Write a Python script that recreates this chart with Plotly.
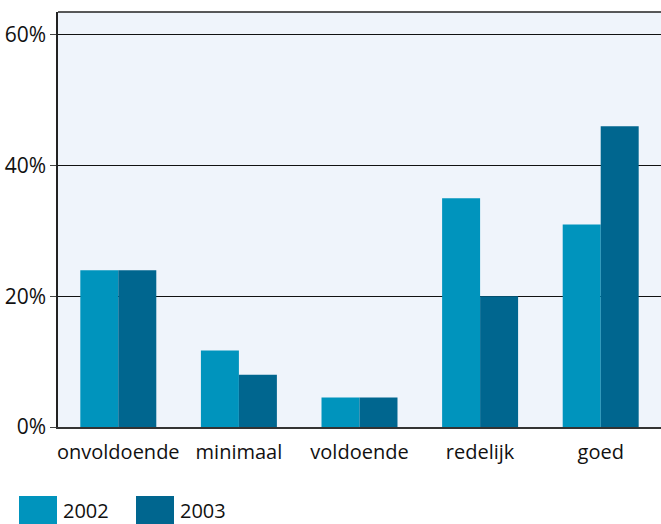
import plotly.graph_objects as go

categories = ["onvoldoende", "minimaal", "voldoende", "redelijk", "goed"]
values_2002 = [24, 11.7, 4.5, 35, 31]
values_2003 = [24, 8, 4.5, 20, 46]
series_names = ["2002", "2003"]
colors = ["#0094BD", "#00668F"]
y_tickvals = [0, 20, 40, 60]
y_ticktext = ["0%", "20%", "40%", "60%"]

W, H = 661, 524
L, R, T, B = 58, 0, 12, 97
pw, ph = W - L - R, H - T - B

FONT = "Open Sans"

fig = go.Figure()
for name, vals, col in zip(series_names, [values_2002, values_2003], colors):
    fig.add_trace(go.Bar(x=categories, y=vals, name=name, marker_color=col,
                         marker_line_width=0, showlegend=False))

fig.update_layout(
    width=W, height=H,
    margin=dict(l=L, r=R, t=T, b=B),
    paper_bgcolor="white",
    plot_bgcolor="#EFF4FB",
    barmode="group", bargap=0.37, bargroupgap=0,
    font=dict(family=FONT, size=20, color="#111111"),
)
fig.update_yaxes(range=[0, 63.5], tickvals=y_tickvals, ticktext=y_ticktext,
                 showgrid=True, gridcolor="#111111", gridwidth=1,
                 zeroline=False, ticks="outside", ticklen=6, tickcolor="#444444",
                 showline=True, linecolor="#222222", linewidth=1.5, mirror=False,
                 tickfont=dict(size=21), ticklabelstandoff=0)
fig.update_xaxes(showline=True, linecolor="#333333", linewidth=2,
                 ticks="", tickfont=dict(size=20), ticklabelstandoff=6)

# top border
fig.add_shape(type="line", xref="paper", yref="paper", x0=0, x1=1, y0=1, y1=1,
              line=dict(color="#222222", width=1.5))

# legend drawn manually
def px_to_paper_x(px):
    return (px - L) / pw

def px_to_paper_y(py):
    return (H - B - py) / ph

legend_x = [19, 136]
for i, (name, col) in enumerate(zip(series_names, colors)):
    x0 = legend_x[i]
    fig.add_shape(type="rect", xref="paper", yref="paper",
                  x0=px_to_paper_x(x0), x1=px_to_paper_x(x0 + 38),
                  y0=px_to_paper_y(496), y1=px_to_paper_y(540),
                  fillcolor=col, line=dict(width=0))
    fig.add_annotation(text=name, xref="paper", yref="paper",
                       x=px_to_paper_x(x0 + 42), y=px_to_paper_y(510),
                       xanchor="left", yanchor="middle", showarrow=False,
                       font=dict(size=20, family=FONT, color="#111111"))

fig.write_html("out.html", config={"displayModeBar": False},
               post_script="document.body.style.margin='0px';")
